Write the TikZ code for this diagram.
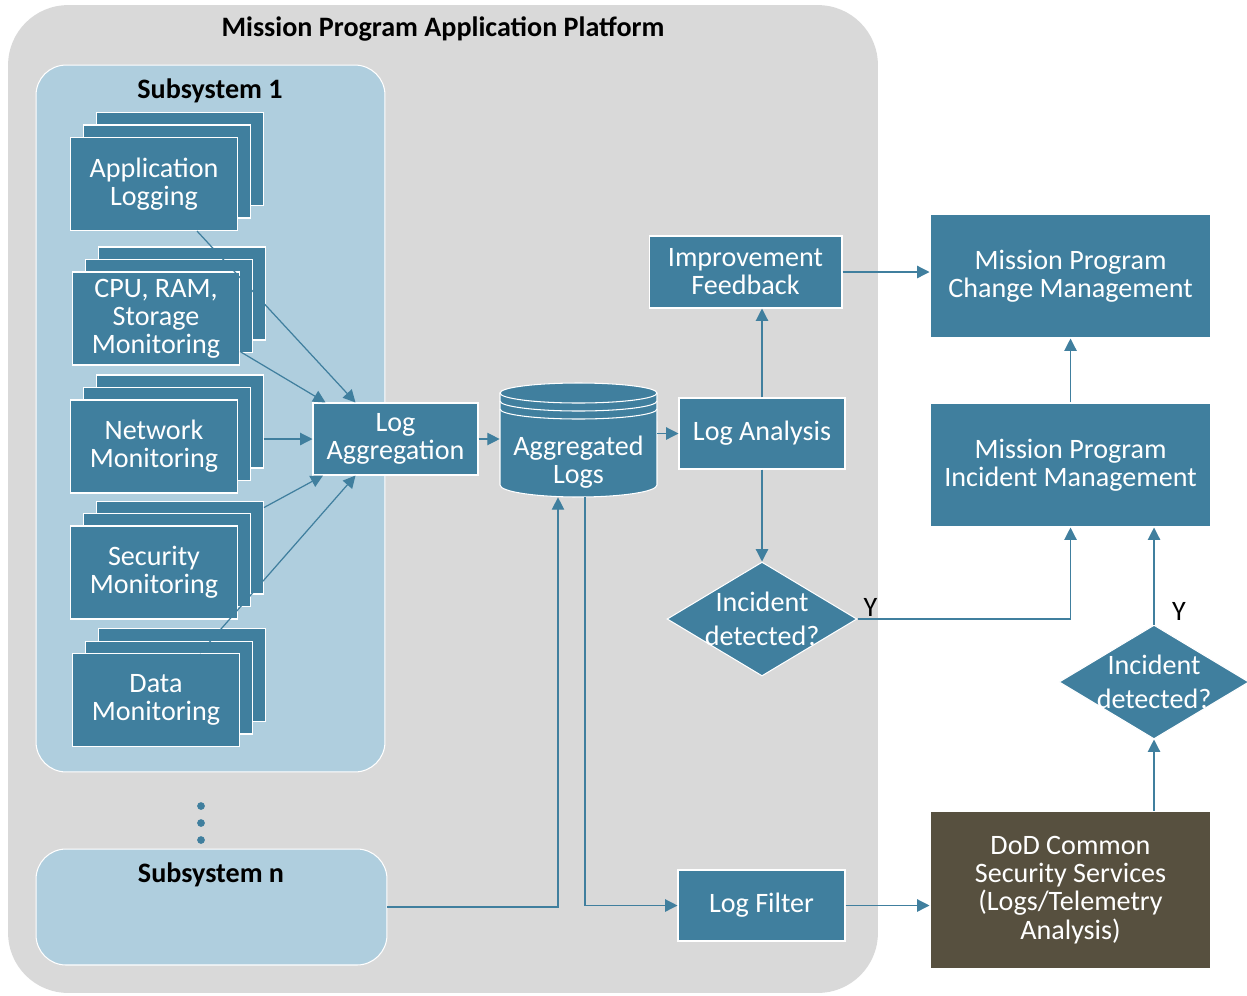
\documentclass[tikz,border=0pt]{standalone}
\usepackage{fontspec}
\setmainfont{Carlito}
\usetikzlibrary{shapes.geometric, shadows, arrows.meta}

\definecolor{boxblue}{RGB}{64,127,158}
\definecolor{subblue}{RGB}{175,206,222}
\definecolor{platgray}{RGB}{217,217,217}
\definecolor{dodbrown}{RGB}{87,80,63}

\tikzset{
  box/.style={fill=boxblue, draw=white, line width=0.6pt, text=white, align=center,
    font=\fontsize{16}{16}\selectfont, inner sep=0pt},
  mon/.style={box, minimum width=3.34cm, minimum height=1.86cm,
    double copy shadow={shadow xshift=0.26cm, shadow yshift=0.25cm}},
  decide/.style={diamond, fill=boxblue, draw=white, line width=0.6pt, text=white, align=center,
    font=\fontsize{16}{19}\selectfont, inner sep=-8pt, minimum width=3.8cm, minimum height=2.28cm},
  subsys/.style={fill=subblue, draw=white, line width=0.6pt, rounded corners=0.6cm},
  flow/.style={->, boxblue, line width=0.7pt},
  ylab/.style={font=\fontsize{16}{16}\selectfont, inner sep=1pt},
  heading/.style={font=\bfseries\fontsize{16}{16}\selectfont},
}

\begin{document}
\begin{tikzpicture}[x=0.02cm, y=-0.02cm, >={Triangle[length=7pt,width=7pt]}]
  \useasboundingbox (0,0) rectangle (1247,995);

  % platform and subsystems
  \node[fill=platgray, rounded corners=1.2cm, minimum width=17.4cm, minimum height=19.76cm] (plat) at (443,499) {};
  \node[heading] (plattitle) at (443,29) {Mission Program Application Platform};
  \node[subsys, minimum width=6.98cm, minimum height=14.14cm] (sub1) at (210.5,418.5) {};
  \node[heading] (sub1title) at (210,91) {Subsystem 1};
  \node[subsys, minimum width=7.02cm, minimum height=2.32cm] (subn) at (211.5,907) {};
  \node[heading] (subntitle) at (211,875) {Subsystem n};

  \foreach \y in {806,823,840}
    \fill[boxblue] (201,\y) circle (2.2pt);

  % monitoring stacks
  \node[mon] (app) at (154,184) {Application\\Logging};
  \node[mon] (cpu) at (156,318.5) {CPU, RAM,\\Storage\\Monitoring};
  \node[mon] (net) at (154,446.5) {Network\\Monitoring};
  \node[mon] (sec) at (154,572.5) {Security\\Monitoring};
  \node[mon] (data) at (156,700) {Data\\Monitoring};

  \node[box, minimum width=3.3cm, minimum height=1.44cm] (agg) at (395.5,439) {Log\\Aggregation};

  % aggregated logs store
  \fill[boxblue, draw=white, line width=0.6pt] (500,393) -- (500,485)
    arc[start angle=180, end angle=360, x radius=1.57cm, y radius=0.24cm] -- (657,393)
    arc[start angle=0, end angle=180, x radius=1.57cm, y radius=0.2cm] -- cycle;
  \foreach \y in {393,401,409}
    \draw[white, line width=0.6pt] (500,\y) arc[start angle=180, end angle=360, x radius=1.57cm, y radius=0.2cm];
  \node[minimum width=3.14cm, minimum height=2.34cm] (aggl) at (578.5,438.5) {};
  \node[text=white, align=center, font=\fontsize{16}{16}\selectfont] (aggltext) at (578.5,462) {Aggregated\\Logs};

  \node[box, minimum width=3.32cm, minimum height=1.42cm] (ana) at (762,433.5) {Log Analysis};
  \node[box, minimum width=3.86cm, minimum height=1.44cm] (fb) at (745.5,272) {Improvement\\Feedback};
  \node[decide] (d1) at (762,619) {Incident\\detected?};
  \node[box, minimum width=3.34cm, minimum height=1.42cm] (filt) at (761.5,905.5) {Log Filter};

  \node[box, minimum width=5.62cm, minimum height=2.48cm] (chg) at (1070.5,276) {Mission Program\\Change Management};
  \node[box, minimum width=5.62cm, minimum height=2.48cm] (inc) at (1070.5,465) {Mission Program\\Incident Management};
  \node[decide] (d2) at (1154,682) {Incident\\detected?};
  \node[box, fill=dodbrown, minimum width=5.62cm, minimum height=3.16cm] (dod) at (1070.5,890) {DoD Common\\Security Services\\(Logs/Telemetry\\Analysis)};

  % connectors
  \draw[flow] ([xshift=0.86cm]app.south) -- ([xshift=-0.8cm]agg.north);
  \draw[flow] ([yshift=-0.66cm]cpu.east) -- ([xshift=-1.4cm]agg.north);
  \draw[flow] ([xshift=-0.98cm]agg.west) -- (agg.west);
  \draw[flow] ([xshift=0.52cm,yshift=1.3cm]sec.east) -- ([xshift=-1.45cm]agg.south);
  \draw[flow] ([xshift=0.88cm]data.north) -- ([xshift=-0.8cm]agg.south);
  \draw[flow] (agg.east) -- (agg.east -| aggl.west);
  \draw[flow] (aggl.east |- ana.west) -- (ana.west);
  \draw[flow] (ana.north) -- (ana.north |- fb.south);
  \draw[flow] (ana.south) -- (d1.north);
  \draw[flow] (fb.east) -- (fb.east -| chg.west);
  \draw[flow] (inc.north) -- (chg.south);
  \draw[flow] (d1.east) -- (d1.east -| inc.south) -- (inc.south);
  \node[ylab, anchor=south west] (y1) at ([xshift=0.08cm]d1.east) {Y};
  \draw[flow] (d2.north) -- (d2.north |- inc.south);
  \node[ylab, anchor=south west] (y2) at ([xshift=0.32cm,yshift=0.04cm]d2.north) {Y};
  \draw[flow] (dod.north -| d2.south) -- (d2.south);
  \draw[flow] (subn.east) -| ([xshift=-0.41cm]aggl.south);
  \draw[flow] ([xshift=0.13cm]aggl.south) |- (filt.west);
  \draw[flow] (filt.east) -- (filt.east -| dod.west);
\end{tikzpicture}
\end{document}
